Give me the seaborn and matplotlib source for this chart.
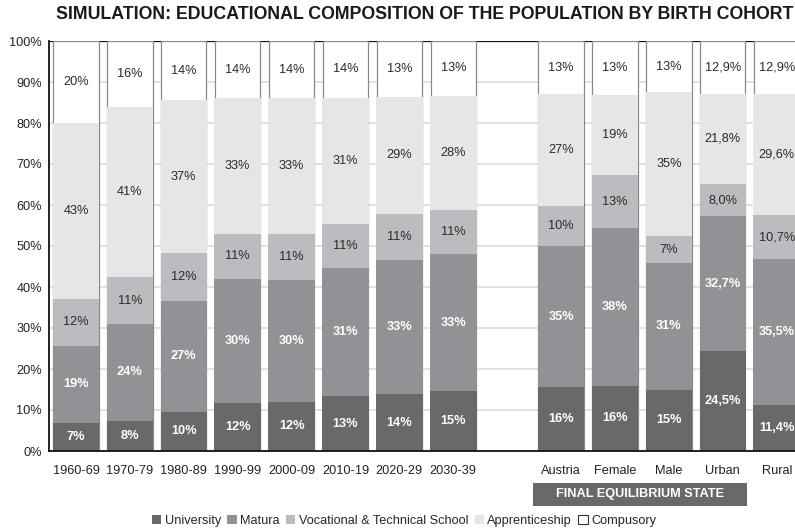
import numpy as np
import pandas as pd
import matplotlib
matplotlib.use("Agg")
import matplotlib.pyplot as plt
import seaborn as sns
from matplotlib.patches import Rectangle, Patch
from matplotlib.transforms import blended_transform_factory

# ---------------- data ----------------
categories = ["1960-69", "1970-79", "1980-89", "1990-99", "2000-09", "2010-19",
              "2020-29", "2030-39", "Austria", "Female", "Male", "Urban", "Rural"]
gap_label = " "
series_names = ["University", "Matura", "Vocational & Technical School",
                "Apprenticeship", "Compusory"]

university = [6.8, 7.4, 9.6, 11.7, 12.0, 13.3, 13.9, 14.6, 15.5, 15.9, 15.0, 24.5, 11.3]
matura = [18.9, 23.6, 27.1, 30.3, 29.7, 31.3, 32.7, 33.4, 34.6, 38.4, 30.8, 32.7, 35.5]
vocational = [11.4, 11.4, 11.5, 10.9, 11.3, 10.8, 11.2, 10.9, 9.7, 13.0, 6.6, 8.0, 10.7]
apprenticeship = [42.9, 41.6, 37.4, 33.1, 33.0, 30.8, 28.6, 27.8, 27.2, 19.5, 35.1, 21.8, 29.6]
compulsory = [20.0, 16.0, 14.4, 14.0, 14.0, 13.8, 13.6, 13.3, 13.0, 13.2, 12.5, 13.0, 12.9]

uni_labels = ["7%", "8%", "10%", "12%", "12%", "13%", "14%", "15%", "16%", "16%", "15%", "24,5%", "11,4%"]
mat_labels = ["19%", "24%", "27%", "30%", "30%", "31%", "33%", "33%", "35%", "38%", "31%", "32,7%", "35,5%"]
voc_labels = ["12%", "11%", "12%", "11%", "11%", "11%", "11%", "11%", "10%", "13%", "7%", "8,0%", "10,7%"]
app_labels = ["43%", "41%", "37%", "33%", "33%", "31%", "29%", "28%", "27%", "19%", "35%", "21,8%", "29,6%"]
com_labels = ["20%", "16%", "14%", "14%", "14%", "14%", "13%", "13%", "13%", "13%", "13%", "12,9%", "12,9%"]

y_ticks = [0, 10, 20, 30, 40, 50, 60, 70, 80, 90, 100]
y_tick_labels = ["0%", "10%", "20%", "30%", "40%", "50%", "60%", "70%", "80%", "90%", "100%"]

title = "SIMULATION: EDUCATIONAL COMPOSITION OF THE POPULATION BY BIRTH COHORT"
group_title = "FINAL EQUILIBRIUM STATE"

# ---------------- style ----------------
sns.set_style("white")
plt.rcParams["font.family"] = ["Liberation Sans", "DejaVu Sans"]

colors = ["#69696c", "#919295", "#bbbcbf", "#e5e6e8", "#ffffff"]
text_colors = ["white", "white", "#2a2a2a", "#2a2a2a", "#2a2a2a"]
text_weights = ["bold", "bold", "normal", "normal", "normal"]
FS = 9.2

fig = plt.figure(figsize=(7.95, 5.3), dpi=100)
ax = fig.add_axes([49 / 795, 79 / 530, 754.7 / 795, 410 / 530])

order = categories[:8] + [gap_label] + categories[8:]
values = np.array([university, matura, vocational, apprenticeship, compulsory])
cum = np.cumsum(values, axis=0)
labels = [uni_labels, mat_labels, voc_labels, app_labels, com_labels]

BW = 0.84
EDGE_LW = 0.9
slot_px = 754.7 / len(order)
edge_extra = (EDGE_LW * 100 / 72) / slot_px  # cover outline of the back bar

for k in reversed(range(5)):
    df = pd.DataFrame({"cat": categories, "val": cum[k]})
    if k == 4:
        kw = dict(edgecolor="#8a8a8a", linewidth=EDGE_LW)
        w = BW
    else:
        kw = dict(linewidth=0)
        w = BW + edge_extra
    sns.barplot(data=df, x="cat", y="val", order=order, color=colors[k],
                saturation=1, width=w, ax=ax, zorder=2, **kw)

for k in range(5):
    for i, cat in enumerate(categories):
        pos = order.index(cat)
        yc = cum[k][i] - values[k][i] / 2
        ax.text(pos, yc, labels[k][i], ha="center", va="center", fontsize=FS,
                color=text_colors[k], fontweight=text_weights[k], zorder=5)

ax.set_ylim(0, 100)
ax.set_xlim(-0.5, len(order) - 0.5)
ax.set_yticks(y_ticks)
ax.set_yticklabels(y_tick_labels, fontsize=FS, color="#222222")
ax.set_xlabel("")
ax.set_ylabel("")
ax.yaxis.grid(True, color="#dddddd", linewidth=1.2, zorder=0)
ax.xaxis.grid(False)
ax.set_axisbelow(True)
ax.axhline(100, color="#111111", linewidth=1.6, zorder=1)

ax.tick_params(axis="x", which="major", length=0, labelsize=FS, pad=10, colors="#222222")
ax.set_xticks(range(len(order)))
ax.set_xticklabels(order)
ax.set_xticks(np.arange(-0.5, len(order), 1.0), minor=True)
ax.tick_params(axis="x", which="minor", length=4, width=1, direction="out", color="#111111")
ax.tick_params(axis="y", length=6, width=1, direction="inout", color="#111111", pad=2)

for s in ["top", "right"]:
    ax.spines[s].set_visible(False)
for s in ["left", "bottom"]:
    ax.spines[s].set_color("#111111")
    ax.spines[s].set_linewidth(1.3)

# group box
trans = blended_transform_factory(ax.transData, ax.transAxes)
x0, x1 = 8.47, 12.44
y0, h = (451 - 506) / 410, 23 / 410
ax.add_patch(Rectangle((x0, y0), x1 - x0, h, transform=trans, clip_on=False,
                       facecolor="#69696c", edgecolor="none"))
ax.text((x0 + x1) / 2, y0 + h / 2, group_title, transform=trans, ha="center",
        va="center", color="white", fontweight="bold", fontsize=FS)

fig.text(425 / 795, 1 - 14.5 / 530, title, ha="center", va="center",
         fontsize=12.75, fontweight="bold", color="#1a1a1a")

handles = [Patch(facecolor=colors[k], edgecolor=("#333333" if k == 4 else "none"),
                 linewidth=0.8) for k in range(5)]
fig.legend(handles, series_names, loc="center", bbox_to_anchor=(404 / 795, 9 / 530),
           ncol=5, frameon=False, fontsize=FS, handlelength=0.75, handleheight=0.75,
           handletextpad=0.25, columnspacing=0.5, borderaxespad=0, borderpad=0)

fig.savefig("out.png", dpi=100)
